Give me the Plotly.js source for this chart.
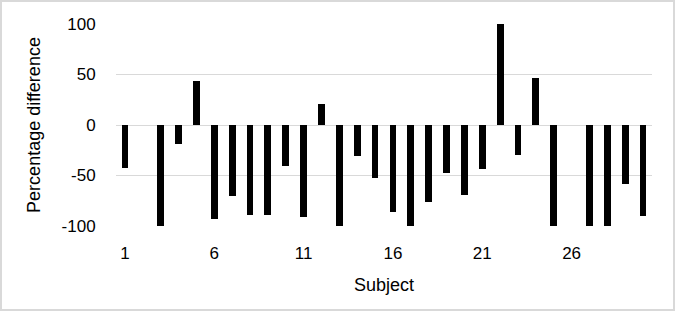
<!DOCTYPE html>
<html>
<head>
<meta charset="utf-8">
<script src="https://cdn.plot.ly/plotly-3.0.1.min.js"></script>
<style>
html,body{margin:0;padding:0;background:#fff;}
#wrap{position:relative;width:675px;height:311px;}
#chart{width:675px;height:311px;}
#frame{position:absolute;left:0;top:0;width:675px;height:311px;box-sizing:border-box;border:2px solid #d9d9d9;pointer-events:none;}
</style>
</head>
<body>
<div id="wrap"><div id="chart"></div><div id="frame"></div></div>
<script>
const subjects = [1,2,3,4,5,6,7,8,9,10,11,12,13,14,15,16,17,18,19,20,21,22,23,24,25,26,27,28,29,30];
const percentDiff = [-43,0,-100,-19,44,-93,-70,-89,-89,-41,-91,21,-100,-31,-52,-86,-100,-76,-48,-69,-44,100,-30,47,-100,0,-100,-100,-58,-90];
const xTickVals = [1,6,11,16,21,26];
const xTickText = ['1','6','11','16','21','26'];
const yTickVals = [-100,-50,0,50,100];
const yTickText = ['-100','-50','0','50','100'];

const fontFam = 'Liberation Sans, Arial, sans-serif';
Plotly.newPlot('chart', [{
  type: 'bar',
  x: subjects,
  y: percentDiff,
  width: 0.38,
  marker: {color: '#000000', line: {width: 0}},
  hoverinfo: 'none'
}], {
  width: 675, height: 311,
  margin: {l: 116, r: 23, t: 24, b: 85},
  paper_bgcolor: '#ffffff', plot_bgcolor: '#ffffff',
  showlegend: false,
  font: {family: fontFam, size: 17, color: '#000000'},
  xaxis: {
    range: [0.5, 30.5],
    tickmode: 'array', tickvals: xTickVals, ticktext: xTickText,
    showgrid: false, zeroline: false, showline: false,
    ticks: 'outside', ticklen: 12, tickcolor: 'rgba(0,0,0,0)',
    tickfont: {size: 17, family: fontFam, color: '#000'},
    title: {text: 'Subject', font: {size: 18, family: fontFam, color: '#000'}, standoff: 15}
  },
  yaxis: {
    range: [-100, 100],
    tickmode: 'array', tickvals: yTickVals, ticktext: yTickText,
    showgrid: true, gridcolor: '#d9d9d9', gridwidth: 1,
    zeroline: true, zerolinecolor: '#d9d9d9', zerolinewidth: 1,
    showline: false,
    ticks: 'outside', ticklen: 16, tickcolor: 'rgba(0,0,0,0)',
    tickfont: {size: 17, family: fontFam, color: '#000'},
    title: {text: 'Percentage difference', font: {size: 18, family: fontFam, color: '#000'}, standoff: 16}
  },
  bargap: 0
}, {staticPlot: true});
</script>
</body>
</html>
